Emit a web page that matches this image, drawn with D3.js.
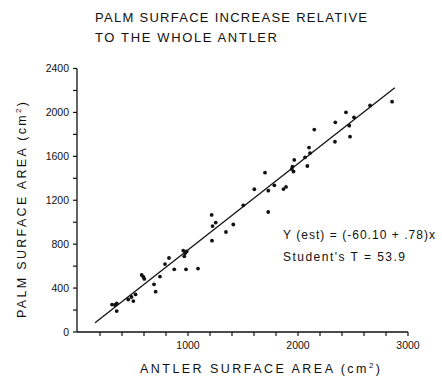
<!DOCTYPE html>
<html lang="en">
<head>
    <meta charset="UTF-8">
    <title>palm surface vs antler surface</title>
    <script src="https://d3js.org/d3.v7.min.js"></script>
    <style>
        body {
            margin: 0;
            background: #fff;
        }

        text {
            font-family: "Liberation Sans", Arial, sans-serif;
            fill: #111;
        }

        .title {
            font-size: 13px;
        }

        .tick-label {
            font-size: 10.5px;
        }

        .axis-title {
            font-size: 12.5px;
        }

        .note {
            font-size: 12px;
        }
    </style>
</head>
<body>
<script>
    //data
    const antlerArea = [309, 336, 352, 352, 457, 503, 523, 486, 579, 594, 603, 691, 706, 745, 791, 827, 875, 982,
        1091, 957, 973, 988, 966, 1215, 1223, 1252, 1218, 1345, 1412, 1503, 1729, 1603, 1700, 1730, 1785, 1868,
        1891, 1950, 1966, 1959, 1943, 2064, 2085, 2100, 2109, 2148, 2336, 2339, 2436, 2466, 2473, 2509, 2655, 2855];
    const palmArea = [250, 246, 261, 191, 296, 282, 342, 319, 519, 501, 483, 434, 367, 505, 619, 674, 571, 571,
        578, 742, 717, 733, 689, 1066, 965, 997, 832, 911, 979, 1154, 1093, 1300, 1451, 1287, 1336, 1302,
        1321, 1507, 1567, 1462, 1485, 1591, 1512, 1680, 1630, 1844, 1733, 1910, 2001, 1879, 1779, 1955, 2063, 2098];

    //fitted line ends (as drawn)
    const fitX = [155, 2880];
    const fitY = [85, 2225];

    const xTicks = [200, 400, 600, 800, 1000, 1200, 1400, 1600, 1800, 2000, 2200, 2400, 2600, 2800, 3000];
    const xLabels = [1000, 2000, 3000];
    const yTicks = [0, 200, 400, 600, 800, 1000, 1200, 1400, 1600, 1800, 2000, 2200, 2400];
    const yLabels = [0, 400, 800, 1200, 1600, 2000, 2400];

    const titleLines = ["PALM SURFACE INCREASE  RELATIVE", "TO THE WHOLE ANTLER"];
    const noteLines = ["Y (est) = (-60.10 + .78)x", "Student's  T  =  53.9"];

    const width = 442;
    const height = 378;

    const x = d3.scaleLinear().domain([0, 3000]).range([78, 408]);
    const y = d3.scaleLinear().domain([0, 2400]).range([332, 68.5]);

    draw();

    function draw() {
        const svg = d3.select("body").append("svg")
            .attr("width", width)
            .attr("height", height);

        drawTitle(svg);
        drawAxes(svg);
        drawFit(svg);
        drawPoints(svg);
        drawNote(svg);
    }

    function drawTitle(svg) {
        svg.append("text").attr("class", "title")
            .attr("x", 95).attr("y", 22)
            .attr("textLength", 272).attr("lengthAdjust", "spacing")
            .text(titleLines[0]);
        svg.append("text").attr("class", "title")
            .attr("x", 95).attr("y", 42)
            .attr("textLength", 182).attr("lengthAdjust", "spacing")
            .text(titleLines[1]);
    }

    function drawAxes(svg) {
        const g = svg.append("g").attr("class", "axes");

        //x axis, ticks down
        g.append("line")
            .attr("x1", x(0) - 1).attr("x2", x(3000))
            .attr("y1", y(0)).attr("y2", y(0))
            .attr("stroke", "#111").attr("stroke-width", 1.3);
        g.selectAll("line.xt")
            .data(xTicks)
            .enter()
            .append("line")
            .attr("class", "xt")
            .attr("x1", d => x(d)).attr("x2", d => x(d))
            .attr("y1", y(0)).attr("y2", y(0) + 4)
            .attr("stroke", "#111").attr("stroke-width", 1.2);
        g.selectAll("text.xl")
            .data(xLabels)
            .enter()
            .append("text")
            .attr("class", "xl tick-label")
            .attr("x", d => x(d)).attr("y", y(0) + 17)
            .attr("text-anchor", "middle")
            .text(d => d);

        //y axis, ticks left
        g.append("line")
            .attr("x1", x(0) - 1).attr("x2", x(0) - 1)
            .attr("y1", y(0)).attr("y2", y(2400))
            .attr("stroke", "#111").attr("stroke-width", 1.3);
        g.selectAll("line.yt")
            .data(yTicks)
            .enter()
            .append("line")
            .attr("class", "yt")
            .attr("x1", x(0) - 5).attr("x2", x(0) - 1)
            .attr("y1", d => y(d)).attr("y2", d => y(d))
            .attr("stroke", "#111").attr("stroke-width", 1.2);
        g.selectAll("text.yl")
            .data(yLabels)
            .enter()
            .append("text")
            .attr("class", "yl tick-label")
            .attr("x", x(0) - 9).attr("y", d => y(d))
            .attr("dy", "0.35em")
            .attr("text-anchor", "end")
            .text(d => d);

        //axis titles
        const xt = g.append("text").attr("class", "axis-title")
            .attr("x", 140).attr("y", 373)
            .attr("textLength", 240).attr("lengthAdjust", "spacing")
            .text("ANTLER  SURFACE AREA (cm");
        xt.append("tspan").attr("dy", -5).attr("font-size", "8px").text("2");
        xt.append("tspan").attr("dy", 5).text(")");

        const yt = g.append("text").attr("class", "axis-title")
            .attr("transform", "translate(26,318) rotate(-90)")
            .attr("textLength", 216).attr("lengthAdjust", "spacing")
            .text("PALM  SURFACE  AREA (cm");
        yt.append("tspan").attr("dy", -5).attr("font-size", "8px").text("2");
        yt.append("tspan").attr("dy", 5).text(")");
    }

    function drawFit(svg) {
        const pts = fitX.map((d, i) => [d, fitY[i]]);
        svg.append("path")
            .attr("d", d3.line().x(d => x(d[0])).y(d => y(d[1]))(pts))
            .attr("stroke", "#111")
            .attr("stroke-width", 1.3)
            .attr("fill", "none");
    }

    function drawPoints(svg) {
        svg.append("g").attr("class", "points")
            .selectAll("circle")
            .data(antlerArea)
            .enter()
            .append("circle")
            .attr("cx", d => x(d))
            .attr("cy", (d, i) => y(palmArea[i]))
            .attr("r", 1.9)
            .attr("fill", "#111");
    }

    function drawNote(svg) {
        const widths = [152, 122];
        svg.selectAll("text.note")
            .data(noteLines)
            .enter()
            .append("text")
            .attr("class", "note")
            .attr("x", 283)
            .attr("y", (d, i) => 239 + i * 22)
            .attr("textLength", (d, i) => widths[i])
            .attr("lengthAdjust", "spacing")
            .text(d => d);
    }
</script>
</body>
</html>
